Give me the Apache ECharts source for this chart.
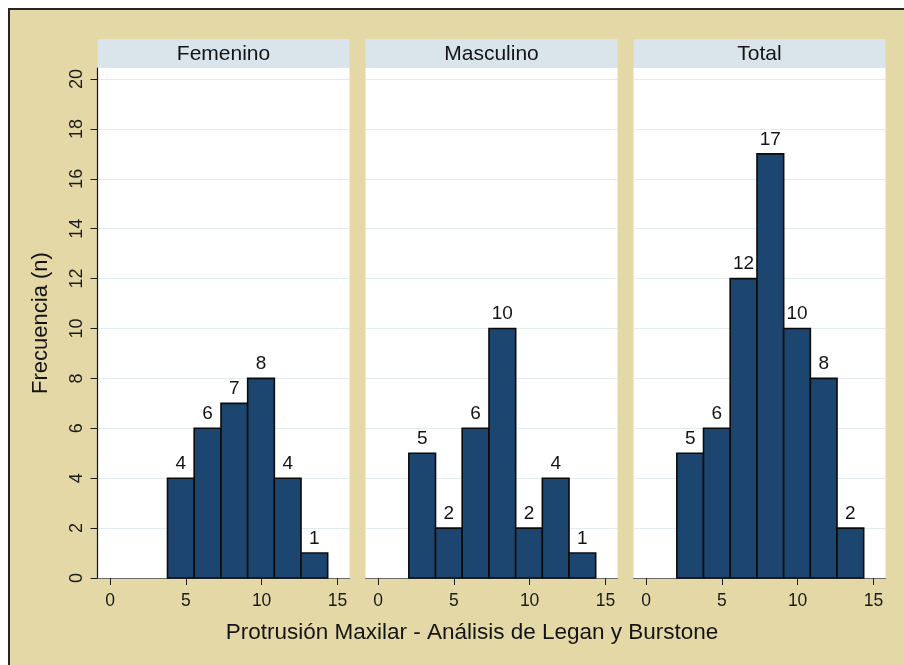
<!DOCTYPE html>
<html>
<head>
<meta charset="utf-8">
<script src="https://cdn.jsdelivr.net/npm/echarts@6/dist/echarts.min.js"></script>
<style>
  html, body { margin: 0; background: #ffffff; overflow: hidden; }
  #chart {
    position: absolute; left: 8px; top: 8px;
    width: 900px; height: 660px;
    border-left: 2px solid #262626; border-top: 2px solid #262626;
    background: #E4D9A6;
  }
</style>
</head>
<body>
<div id="chart"></div>
<script>
// Histogram of maxillary protrusion, split by sex, with a total panel.
const panels = ['Femenino', 'Masculino', 'Total'];
const binEdges = [2.03, 3.79, 5.55, 7.32, 9.08, 10.84, 12.60, 14.36];
const femenino = [0, 4, 6, 7, 8, 4, 1];
const masculino = [5, 2, 6, 10, 2, 4, 1];
const total = [5, 6, 12, 17, 10, 8, 2];
const xTicks = [0, 5, 10, 15];
const yTicks = [0, 2, 4, 6, 8, 10, 12, 14, 16, 18, 20];
const xTitle = 'Protrusión Maxilar - Análisis de Legan y Burstone';
const yTitle = 'Frecuencia (n)';

const counts = [femenino, masculino, total];

// layout (pixels inside the chart box)
const FONT = '"Liberation Sans", Arial, sans-serif';
const panelW = 252, panelGap = 16, firstLeft = 87.5;
const plotTop = 58, plotH = 510, headerH = 29;
const xMin = -0.83, xMax = 15.8, yMin = 0, yMax = 20.44;

const BAR_FILL = '#1C466F';
const BAR_EDGE = '#0b0b0b';
const HEADER_FILL = '#D9E5EB';
const GRID_LINE = '#E2EBEE';

function binsFor(values) {
  return values.map((n, i) => [binEdges[i], binEdges[i + 1], n]);
}

function renderBar(params, api) {
  const x0 = api.value(0), x1 = api.value(1), n = api.value(2);
  if (!n) return null;
  const p0 = api.coord([x0, n]);
  const p1 = api.coord([x1, 0]);
  return {
    type: 'group',
    children: [
      {
        type: 'rect',
        shape: { x: p0[0], y: p0[1], width: p1[0] - p0[0], height: p1[1] - p0[1] },
        style: { fill: BAR_FILL, stroke: BAR_EDGE, lineWidth: 1.6 }
      },
      {
        type: 'text',
        style: {
          text: String(n), x: (p0[0] + p1[0]) / 2, y: p0[1] - 5,
          align: 'center', verticalAlign: 'bottom',
          fill: '#141414', font: '19px ' + FONT
        }
      }
    ]
  };
}

const grids = [], xAxes = [], yAxes = [], series = [], graphics = [];

panels.forEach((name, i) => {
  const left = firstLeft + i * (panelW + panelGap);
  grids.push({ left: left, top: plotTop, width: panelW, height: plotH, show: true,
               backgroundColor: '#ffffff', borderWidth: 0 });

  xAxes.push({
    type: 'value', gridIndex: i, min: xMin, max: xMax,
    axisLine: { show: true, onZero: false, lineStyle: { color: '#6a6a6a', width: 1 } },
    axisTick: { show: true, length: 7, customValues: xTicks, lineStyle: { color: '#1e1e1e', width: 1 } },
    axisLabel: { show: true, customValues: xTicks, margin: 14, color: '#1a1a1a',
                 fontSize: 17.5, fontFamily: FONT },
    splitLine: { show: false }
  });

  const isFirst = i === 0;
  yAxes.push({
    type: 'value', gridIndex: i, min: yMin, max: yMax,
    name: isFirst ? yTitle : '',
    nameLocation: 'middle', nameGap: 46,
    nameTextStyle: { fontSize: 22, fontFamily: FONT, color: '#141414' },
    axisLine: { show: isFirst, onZero: false, lineStyle: { color: '#111111', width: 1.2 } },
    axisTick: { show: isFirst, length: 7, customValues: yTicks, lineStyle: { color: '#1e1e1e', width: 1 } },
    axisLabel: { show: isFirst, customValues: yTicks, rotate: 90, margin: 11, color: '#1a1a1a',
                 fontSize: 18, fontFamily: FONT },
    splitLine: { show: true, lineStyle: { color: GRID_LINE, width: 1 } }
  });

  series.push({
    type: 'custom', xAxisIndex: i, yAxisIndex: i,
    data: binsFor(counts[i]),
    encode: { x: [0, 1], y: 2 },
    renderItem: renderBar,
    clip: false
  });

  // panel header strip
  graphics.push({
    type: 'rect', shape: { x: left, y: plotTop - headerH, width: panelW, height: headerH },
    style: { fill: HEADER_FILL }, silent: true
  });
  graphics.push({
    type: 'text', x: left + panelW / 2, y: plotTop - headerH / 2 + 1,
    style: { text: name, align: 'center', verticalAlign: 'middle',
             font: '21px ' + FONT, fill: '#141414' },
    silent: true
  });
});

// shared x-axis title
graphics.push({
  type: 'text', x: 462, y: 623,
  style: { text: xTitle, align: 'center', verticalAlign: 'middle',
           font: '22.5px ' + FONT, fill: '#141414' },
  silent: true
});

const chart = echarts.init(document.getElementById('chart'), null, { renderer: 'canvas' });
chart.setOption({
  animation: false,
  backgroundColor: 'transparent',
  grid: grids,
  xAxis: xAxes,
  yAxis: yAxes,
  series: series,
  graphic: graphics
});
</script>
</body>
</html>
